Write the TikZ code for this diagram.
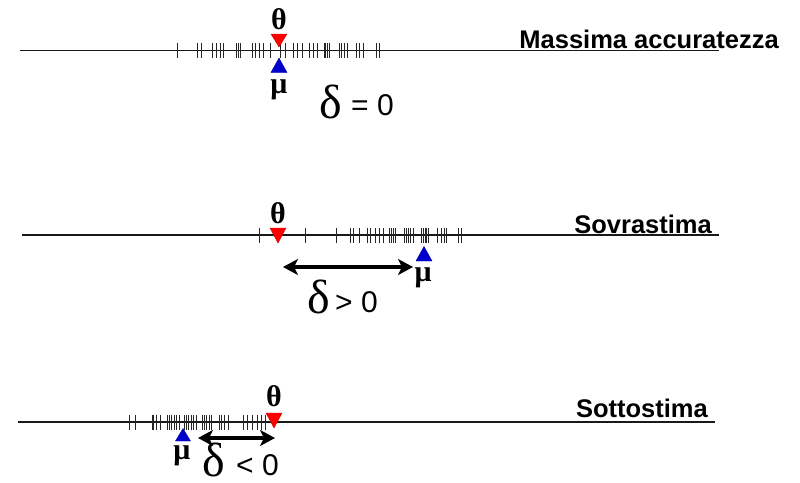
\documentclass[tikz,border=0pt]{standalone}
\usepackage{fontspec}
\setmainfont{Liberation Sans}
\newfontfamily\grkfont{Liberation Serif}
\usetikzlibrary{arrows.meta}
\definecolor{trired}{RGB}{255,0,0}
\definecolor{triblue}{RGB}{0,0,204}
\begin{document}
\begin{tikzpicture}[x=1pt,y=-1pt,
  axisline/.style={line width=1.2pt, black!90},
  tk/.style={line width=0.9pt, black!85},
  lab/.style={font=\bfseries\fontsize{25.5}{30}\selectfont, anchor=base east, inner sep=0pt},
  grk/.style={font=\grkfont\bfseries\fontsize{30}{34}\selectfont, anchor=base, inner sep=0pt},
  dlt/.style={font=\grkfont\fontsize{48}{52}\selectfont, anchor=base, inner sep=0pt, text depth=0pt},
  rel/.style={font=\fontsize{30}{34}\selectfont, anchor=base west, inner sep=0pt},
  redtri/.style={fill=trired, draw=trired!80!black, line width=0.4pt},
  bluetri/.style={fill=triblue, draw=triblue!80!black, line width=0.4pt},
  darrow/.style={line width=4pt, {Stealth[length=15pt,width=16pt,inset=4pt]}-{Stealth[length=15pt,width=16pt,inset=4pt]}}
]
\useasboundingbox (0,0) rectangle (800,482);

% ---------- Line 1 : Massima accuratezza ----------
\coordinate (l1a) at (20,50.5);
\coordinate (l1b) at (719,50.5);
\draw[axisline] (l1a) -- (l1b);
\foreach \x in {177.5,197.5,201,212.5,216.5,220,223.5,236,238,240,252,255.5,259,263,270,280,285.5,293,297.5,302,309.5,313,317.5,324,325.5,327,329,339,341.5,344,347.5,356.5,359,363,376.5,379}
  \draw[tk] (\x,43) -- (\x,57.5);
\draw[redtri] (271,34) -- (287,34) -- (279,47) -- cycle;
\draw[bluetri] (279,58) -- (287,72.5) -- (271,72.5) -- cycle;
\node[grk] (th1) at (279,29.5) {θ};
\node[grk] (mu1) at (279,93.5) {μ};
\node[dlt] (d1) at (331,118) {δ};
\node[rel] (r1) at (351,115) {= 0};
\node[lab] (t1) at (779,48) {Massima accuratezza};

% ---------- Line 2 : Sovrastima ----------
\coordinate (l2a) at (22,235);
\coordinate (l2b) at (719,235);
\draw[axisline] (l2a) -- (l2b);
\foreach \x in {259.5,305,336,350,353,359.5,367,370,375,379,383,389.5,391,393,395,404.5,406,408,410,413,421,423,425,426.5,428,437,441,444,446.5,458,461.5}
  \draw[tk] (\x,227.5) -- (\x,242.5);
\draw[redtri] (270,228) -- (286,228) -- (278,243) -- cycle;
\draw[bluetri] (424,246.5) -- (432,261) -- (416,261) -- cycle;
\node[grk] (th2) at (278,223) {θ};
\node[grk] (mu2) at (423,281) {μ};
\coordinate (a2l) at (283,267);
\coordinate (a2r) at (413,267);
\draw[darrow] (a2l) -- (a2r);
\node[dlt] (d2) at (319,313) {δ};
\node[rel] (r2) at (335,312) {> 0};
\node[lab] (t2) at (712,233) {Sovrastima};

% ---------- Line 3 : Sottostima ----------
\coordinate (l3a) at (18,422);
\coordinate (l3b) at (715,422);
\draw[axisline] (l3a) -- (l3b);
\foreach \x in {129.5,135,152,153.5,156,160,167,169,171.5,174,176.5,179,184,186,188.5,191,193.5,196,202,204,206.5,209,211,219,221.5,224,228,243,247.5,252,257.5,261,265}
  \draw[tk] (\x,414.5) -- (\x,429.5);
\draw[redtri] (266,413) -- (282,413) -- (274,428) -- cycle;
\draw[bluetri] (183,428.5) -- (190.5,441) -- (175.5,441) -- cycle;
\node[grk] (th3) at (274,406) {θ};
\node[grk] (mu3) at (182,459) {μ};
\coordinate (a3l) at (198,438);
\coordinate (a3r) at (275,438);
\draw[darrow] (a3l) -- (a3r);
\node[dlt] (d3) at (214,476) {δ};
\node[rel] (r3) at (236,475) {< 0};
\node[lab] (t3) at (708,417.5) {Sottostima};
\end{tikzpicture}
\end{document}
